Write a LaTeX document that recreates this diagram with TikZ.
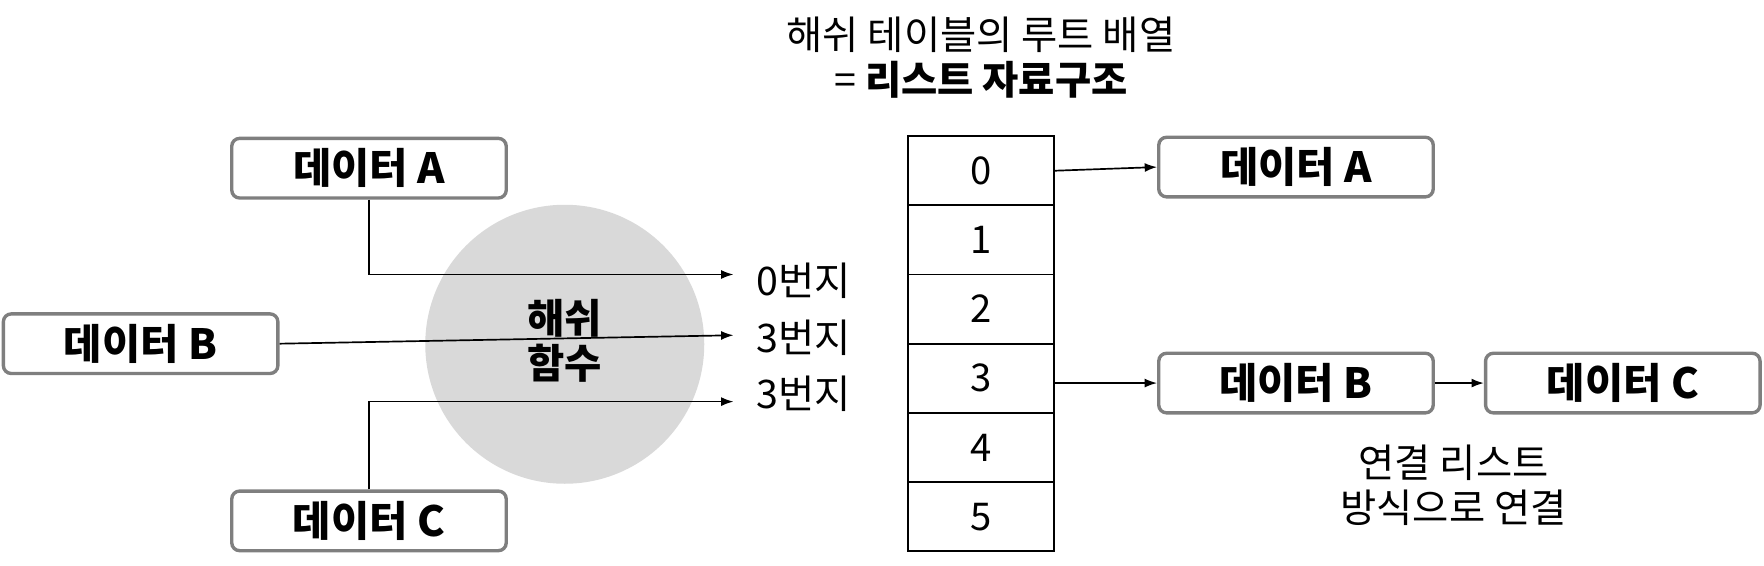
\documentclass[tikz,border=0pt]{standalone}
\usepackage{fontspec}
\setmainfont{Noto Sans CJK KR}
\usetikzlibrary{arrows.meta}
\definecolor{boxgray}{HTML}{7F7F7F}
\definecolor{circgray}{HTML}{D9D9D9}
\tikzset{
  databox/.style={draw=boxgray, line width=3pt, rounded corners=7pt, fill=white,
    minimum width=244pt, minimum height=53pt, inner sep=0pt,
    font=\bfseries\fontsize{37}{40}\selectfont},
  cell/.style={draw, line width=1.5pt, minimum width=130pt, minimum height=61.5pt,
    inner sep=0pt, font=\fontsize{34}{40}\selectfont},
  plain/.style={inner sep=0pt, font=\fontsize{35}{40}\selectfont, align=center},
  arr/.style={line width=1.5pt, -{Latex[length=11pt,width=8pt]}}
}
\begin{document}
\begin{tikzpicture}[x=1pt,y=-1pt]
\useasboundingbox (0,0) rectangle (1568,503);
% hash circle
\node[circle, fill=circgray, minimum size=248pt, inner sep=0pt] (hc) at (502,306) {};
\node[plain, font=\bfseries\fontsize{36}{40}\selectfont] (hf) at (502,303) {해쉬\\함수};
% title
\node[plain] (title) at (872,51) {해쉬 테이블의 루트 배열\\= \textbf{리스트 자료구조}};
% left data boxes
\node[databox] (bA) at (328,149.5) {데이터 A};
\node[databox] (bB) at (125,305.5) {데이터 B};
\node[databox] (bC) at (328,463) {데이터 C};
% address labels
\node[plain, anchor=west] (l0) at (672,250) {0번지};
\node[plain, anchor=west] (l3a) at (672,300) {3번지};
\node[plain, anchor=west] (l3b) at (672,350) {3번지};
\coordinate (eA) at (652,244);
\coordinate (eB) at (652,298);
\coordinate (eC) at (652,357);
\draw[arr] (bA.south) |- (eA);
\draw[arr] (bB.east) -- (eB);
\draw[arr] (bC.north) |- (eC);
% array
\foreach \i in {0,...,5} {
  \node[cell] (c\i) at (872,{121+61.5*(\i+0.5)}) {\i};
}
% right data boxes
\node[databox] (rA) at (1152,148.5) {데이터 A};
\node[databox] (rB) at (1152,340.5) {데이터 B};
\node[databox] (rC) at (1442.5,340.5) {데이터 C};
\draw[arr] (c0.east) -- (rA.west);
\draw[arr] (c3.east |- rB.west) -- (rB.west);
\draw[arr] (rB.east) -- (rC.west);
\node[plain] (note) at (1292,431) {연결 리스트\\방식으로 연결};
\end{tikzpicture}
\end{document}
